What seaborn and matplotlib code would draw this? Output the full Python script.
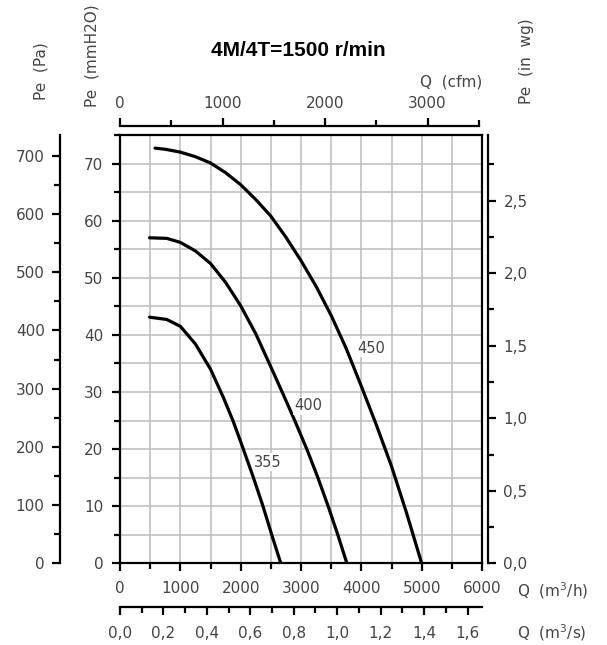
import matplotlib
matplotlib.use("Agg")
import matplotlib.pyplot as plt
import pandas as pd
import seaborn as sns
from matplotlib.ticker import MultipleLocator, FixedLocator, FuncFormatter

# Q in m3/h, Pe in mmH2O
Q_355 = [490, 775, 1000, 1250, 1500, 1715, 1875, 2000, 2205, 2370, 2515, 2665]
P_355 = [43.1, 42.7, 41.5, 38.4, 34.0, 29.0, 24.9, 21.3, 15.2, 10.0, 5.0, 0.0]
Q_400 = [490, 775, 1000, 1250, 1500, 1750, 2000, 2250, 2500, 2700, 2900,
         3100, 3280, 3450, 3610, 3760]
P_400 = [57.0, 56.9, 56.2, 54.7, 52.5, 49.2, 45.1, 40.2, 34.4, 29.7, 24.9,
         19.9, 15.0, 10.0, 5.0, 0.0]
Q_450 = [580, 750, 1000, 1250, 1500, 1750, 2000, 2250, 2500, 2750, 3000,
         3250, 3500, 3750, 4000, 4250, 4500, 4750, 5000]
P_450 = [72.7, 72.5, 72.0, 71.2, 70.1, 68.4, 66.3, 63.7, 60.8, 57.1, 53.0,
         48.5, 43.4, 37.6, 31.0, 24.2, 17.0, 8.8, 0.0]
SIZES = ["355", "400", "450"]
LABEL_Q = [2451, 3124, 4160]
LABEL_P = [17.7, 27.6, 37.7]

PA_TICKS = [0, 100, 200, 300, 400, 500, 600, 700]
WG_TICKS = [0.0, 0.5, 1.0, 1.5, 2.0, 2.5]
CFM_TICKS = [0, 1000, 2000, 3000]
MS_TICKS = [0.0, 0.2, 0.4, 0.6, 0.8, 1.0, 1.2, 1.4, 1.6]

TITLE = "4M/4T=1500 r/min"
GREY = "#444444"
FS = 11

df = pd.concat([
    pd.DataFrame({"q": Q_355, "pe": P_355, "size": "355"}),
    pd.DataFrame({"q": Q_400, "pe": P_400, "size": "400"}),
    pd.DataFrame({"q": Q_450, "pe": P_450, "size": "450"}),
])

sns.set_style("white")
plt.rcParams["font.family"] = ["DejaVu Sans"]

fig = plt.figure(figsize=(6.07, 6.45), dpi=100)
ax = fig.add_axes([0.1977, 0.1266, 0.5964, 0.6641])

sns.lineplot(data=df, x="q", y="pe", hue="size", palette=["black"] * 3,
             sort=False, estimator=None, linewidth=2.3, legend=False, ax=ax)

for name, qx, py in zip(SIZES, LABEL_Q, LABEL_P):
    ax.text(qx, py, name, fontsize=10.5, color=GREY, ha="center", va="center",
            bbox=dict(facecolor="white", edgecolor="none", pad=1.0))

ax.set_xlim(0, 6000)
ax.set_ylim(0, 75)
ax.set_xlabel("")
ax.set_ylabel("")
ax.xaxis.set_major_locator(MultipleLocator(1000))
ax.xaxis.set_minor_locator(MultipleLocator(500))
ax.yaxis.set_major_locator(MultipleLocator(10))
ax.yaxis.set_minor_locator(MultipleLocator(5))
ax.grid(which="both", color="#bcbcbc", linewidth=1.1)
ax.set_axisbelow(True)
for s in ax.spines.values():
    s.set_color("black")
    s.set_linewidth(1.6)
ax.tick_params(which="both", direction="out", color="black", width=1.6,
               labelsize=FS, labelcolor=GREY, top=False, right=False,
               bottom=True, left=True)
ax.tick_params(which="major", length=6)
ax.tick_params(which="minor", length=4)
ax.tick_params(axis="x", which="major", pad=7)
ax.tick_params(axis="y", which="major", pad=6)

comma = lambda fmt: FuncFormatter(lambda v, p: (fmt % v).replace(".", ","))


def style_sec(sec, side):
    for k, s in sec.spines.items():
        s.set_visible(k == side)
        s.set_color("black")
        s.set_linewidth(1.6)
    sec.tick_params(which="both", direction="out", color="black", width=1.6,
                    labelsize=FS, labelcolor=GREY)
    sec.tick_params(which="major", length=6, pad=5)
    sec.tick_params(which="minor", length=4)


def halves(ticks):
    step = ticks[1] - ticks[0]
    return [t + step / 2 for t in ticks]


# Pa axis on the far left
pa = ax.secondary_yaxis(-0.166, functions=(lambda v: v * 9.80665,
                                           lambda v: v / 9.80665))
style_sec(pa, "left")
pa.yaxis.set_major_locator(FixedLocator(PA_TICKS))
pa.yaxis.set_minor_locator(FixedLocator(halves(PA_TICKS)[:-1]))

# in wg axis on the right
wg = ax.secondary_yaxis(1.017, functions=(lambda v: v / 25.4,
                                          lambda v: v * 25.4))
style_sec(wg, "right")
wg.yaxis.set_major_locator(FixedLocator(WG_TICKS))
wg.yaxis.set_minor_locator(FixedLocator(halves(WG_TICKS)))
wg.yaxis.set_major_formatter(comma("%.1f"))

# cfm axis on top
cfm = ax.secondary_xaxis(1.021, functions=(lambda v: v / 1.699,
                                           lambda v: v * 1.699))
style_sec(cfm, "top")
cfm.xaxis.set_major_locator(FixedLocator(CFM_TICKS))
cfm.xaxis.set_minor_locator(FixedLocator(halves(CFM_TICKS)))
cfm.spines["top"].set_bounds(0, 3500)

# m3/s axis below
ms = ax.secondary_xaxis(-0.103, functions=(lambda v: v / 3600,
                                           lambda v: v * 3600))
style_sec(ms, "bottom")
ms.xaxis.set_major_locator(FixedLocator(MS_TICKS))
ms.xaxis.set_minor_locator(FixedLocator(halves(MS_TICKS)[:-1]))
ms.xaxis.set_major_formatter(comma("%.1f"))
ms.tick_params(which="major", pad=7)

txt = dict(color=GREY, fontsize=FS)
fig.text(0.068, 0.889, "Pe  (Pa)", rotation=90, ha="center", va="center", **txt)
fig.text(0.152, 0.913, "Pe  (mmH2O)", rotation=90, ha="center", va="center", **txt)
fig.text(0.868, 0.905, "Pe  (in  wg)", rotation=90, ha="center", va="center", **txt)
fig.text(0.743, 0.873, "Q  (cfm)", ha="center", va="center", **txt)
fig.text(0.852, 0.085, "Q  (m$^3$/h)", ha="left", va="center", **txt)
fig.text(0.852, 0.019, "Q  (m$^3$/s)", ha="left", va="center", **txt)
fig.text(0.491, 0.922, TITLE, ha="center", va="center", fontsize=15,
         fontweight="bold", family=["Liberation Sans", "DejaVu Sans"], color="black")

fig.savefig("out.png", dpi=100)
